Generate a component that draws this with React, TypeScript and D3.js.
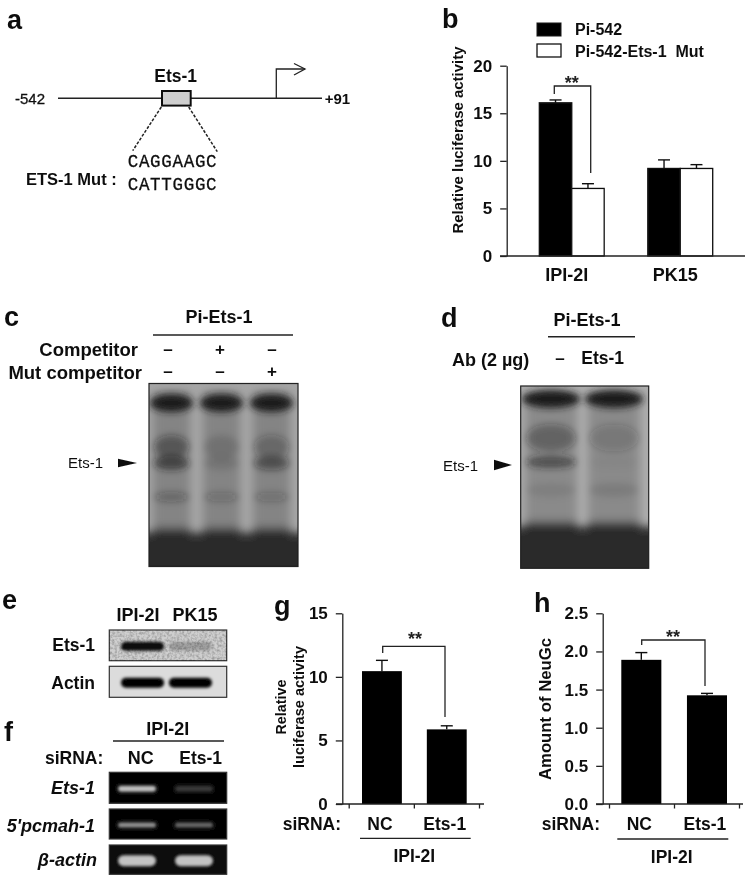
import React, { useEffect, useRef } from 'react'
import * as d3 from 'd3'

const FONT = '"Liberation Sans", Arial, sans-serif'

// panel b
const groupsB = ['IPI-2I', 'PK15']
const seriesB = ['Pi-542', 'Pi-542-Ets-1  Mut']
const valuesB = [[16.1, 7.1], [9.2, 9.2]]
const errorsB = [[16.4, 7.6], [10.1, 9.6]]
const ticksB = [0, 5, 10, 15, 20]

// panel g
const categoriesG = ['NC', 'Ets-1']
const valuesG = [10.45, 5.87]
const errorsG = [11.3, 6.15]
const ticksG = [0, 5, 10, 15]

// panel h
const categoriesH = ['NC', 'Ets-1']
const valuesH = [1.89, 1.425]
const errorsH = [1.985, 1.45]
const ticksH = [0, 0.5, 1, 1.5, 2, 2.5]

// gels: band strength per row, per lane
const gelRows = ['well', 'upper', 'ets1', 'lower']
const gelC = [[1, 1, 1], [0.42, 0.14, 0.28], [0.62, 0.12, 0.48], [0.3, 0.22, 0.22]]
const gelD = [[1, 1], [0.34, 0.18], [0.55, 0.03], [0.08, 0.1]]
const blotRows = ['Ets-1', 'Actin']
const blotE = [[0.95, 0.22], [1, 1]]
const pcrRows = ['Ets-1', "5'pcmah-1", 'β-actin']
const pcrF = [[0.8, 0.22], [0.6, 0.42], [0.8, 0.8]]

type Sel = d3.Selection<any, unknown, null, undefined>

function label(g: Sel, x: number, y: number, s: string, size = 18, anchor = 'middle', weight = 'bold', style = 'normal') {
  return g.append('text')
    .attr('x', x)
    .attr('y', y)
    .attr('dy', '0.36em')
    .attr('text-anchor', anchor)
    .attr('font-family', FONT)
    .attr('font-size', size)
    .attr('font-weight', weight)
    .attr('font-style', style)
    .attr('fill', '#111')
    .text(s)
}

function rule(g: Sel, x1: number, y1: number, x2: number, y2: number, w = 1.3, color = '#222') {
  return g.append('line')
    .attr('x1', x1).attr('y1', y1).attr('x2', x2).attr('y2', y2)
    .attr('stroke', color)
    .attr('stroke-width', w)
}

function stars(g: Sel, x: number, y: number) {
  g.append('text')
    .attr('x', x).attr('y', y + 10)
    .attr('text-anchor', 'middle')
    .attr('font-family', FONT)
    .attr('font-size', 18)
    .attr('font-weight', 'bold')
    .attr('fill', '#222')
    .text('**')
}

function bracket(g: Sel, x1: number, y1: number, yTop: number, x2: number, y2: number) {
  g.append('path')
    .attr('d', d3.line()([[x1, y1], [x1, yTop], [x2, yTop], [x2, y2]]))
    .attr('fill', 'none')
    .attr('stroke', '#222')
    .attr('stroke-width', 1.3)
}

function yAxis(g: Sel, x: number, y: d3.ScaleLinear<number, number>, ticks: number[], fmt: string, size = 17) {
  const ax = g.append('g')
    .attr('transform', `translate(${x},0)`)
    .call(d3.axisLeft(y).tickValues(ticks).tickFormat(d3.format(fmt) as any).tickSize(6.5).tickSizeOuter(0).tickPadding(8))
  ax.selectAll('path,line').attr('stroke', '#222').attr('stroke-width', 1.3)
  ax.selectAll('text')
    .attr('font-family', FONT)
    .attr('font-size', size)
    .attr('font-weight', 'bold')
    .attr('fill', '#111')
}

function errorBar(g: Sel, cx: number, y0: number, y1: number, cap = 12) {
  rule(g, cx, y0, cx, y1, 1.4, '#111')
  rule(g, cx - cap / 2, y1, cx + cap / 2, y1, 1.4, '#111')
}

function arrowHead(g: Sel, x0: number, x1: number, y: number, h: number) {
  g.append('path')
    .attr('d', d3.line()([[x0, y - h / 2], [x1, y], [x0, y + h / 2]]) + 'Z')
    .attr('fill', '#111')
}

function drawGel(
  g: Sel, id: string, box: number[], bg: string, laneColor: string, laneRange: number[], pad: number,
  rowY: number[], matrix: number[][], frontY: number, bandH: number[],
) {
  const [x0, y0, x1, y1] = box
  const defs = g.append('defs')
  defs.append('clipPath').attr('id', id).append('rect')
    .attr('x', x0).attr('y', y0).attr('width', x1 - x0).attr('height', y1 - y0)
  const body = g.append('g').attr('clip-path', `url(#${id})`)
  body.append('rect').attr('x', x0).attr('y', y0).attr('width', x1 - x0).attr('height', y1 - y0).attr('fill', bg)
  const lanes = d3.scaleBand<number>().domain(d3.range(matrix[0].length)).range(laneRange as [number, number]).paddingInner(pad)
  const rows = d3.scaleOrdinal<string, number>().domain(gelRows).range(rowY)
  const rowH = d3.scaleOrdinal<string, number>().domain(gelRows).range(bandH)

  // lane smear and the dark front running off the bottom of the gel
  const smear = body.append('g').attr('filter', 'url(#smearBlur)')
  lanes.domain().forEach(l => {
    smear.append('rect')
      .attr('x', lanes(l)!)
      .attr('y', y0 + 8)
      .attr('width', lanes.bandwidth())
      .attr('height', y1 - y0)
      .attr('fill', laneColor)
  })
  smear.append('rect').attr('x', x0 - 20).attr('y', frontY + 5).attr('width', x1 - x0 + 40).attr('height', y1 - frontY + 20).attr('fill', '#2b2b2b')
  lanes.domain().forEach(l => {
    smear.append('rect')
      .attr('x', lanes(l)!)
      .attr('y', frontY)
      .attr('width', lanes.bandwidth())
      .attr('height', y1 - frontY + 10)
      .attr('fill', '#2b2b2b')
  })

  const inner = body.append('g').attr('filter', 'url(#gelBlur)')
  gelRows.forEach((r, i) => {
    matrix[i].forEach((v, l) => {
      const well = r === 'well'
      inner.append('ellipse')
        .attr('cx', lanes(l)! + lanes.bandwidth() / 2)
        .attr('cy', rows(r))
        .attr('rx', lanes.bandwidth() / 2 + (well ? 3 : -1))
        .attr('ry', rowH(r))
        .attr('fill', '#1c1c1c')
        .attr('opacity', v)
    })
  })
  g.append('rect').attr('x', x0).attr('y', y0).attr('width', x1 - x0).attr('height', y1 - y0)
    .attr('fill', 'none').attr('stroke', '#222').attr('stroke-width', 1.2)
}

function drawStrips(
  g: Sel, boxes: number[][], bgs: string[], band: string, laneRange: number[], pad: number,
  matrix: number[][], thick: number[], grainOn = -1,
) {
  const lanes = d3.scaleBand<number>().domain(d3.range(2)).range(laneRange as [number, number]).paddingInner(pad)
  boxes.forEach((b, i) => {
    const [x0, y0, x1, y1] = b
    g.append('rect').attr('x', x0).attr('y', y0).attr('width', x1 - x0).attr('height', y1 - y0)
      .attr('fill', bgs[i]).attr('stroke', '#333').attr('stroke-width', 1.2)
    if (i === grainOn) {
      g.append('rect').attr('x', x0 + 0.6).attr('y', y0 + 0.6).attr('width', x1 - x0 - 1.2).attr('height', y1 - y0 - 1.2)
        .attr('filter', 'url(#grain)').attr('opacity', 0.22)
    }
    matrix[i].forEach((v, l) => {
      g.append('rect')
        .attr('x', lanes(l)!)
        .attr('y', (y0 + y1) / 2 + 1 - thick[i])
        .attr('width', lanes.bandwidth())
        .attr('height', 2 * thick[i])
        .attr('rx', thick[i])
        .attr('fill', band)
        .attr('opacity', v)
        .attr('filter', 'url(#bandBlur)')
    })
  })
}

function panelA(g: Sel) {
  label(g, 7, 19, 'a', 27, 'start')
  rule(g, 58, 98.3, 322, 98.3, 1.4)
  g.append('rect').attr('x', 162).attr('y', 91).attr('width', 28.7).attr('height', 14.6)
    .attr('fill', '#cfcfcf').attr('stroke', '#111').attr('stroke-width', 2)
  g.append('path').attr('d', d3.line()([[276.3, 98], [276.3, 69], [305, 69]])).attr('fill', 'none').attr('stroke', '#222').attr('stroke-width', 1.3)
  g.append('path').attr('d', d3.line()([[294, 63.5], [305, 69], [294, 75]])).attr('fill', 'none').attr('stroke', '#222').attr('stroke-width', 1.3)
  label(g, 175.7, 76, 'Ets-1', 17.5)
  label(g, 30, 98.5, '-542', 15, 'middle', 'normal').attr('stroke', '#111').attr('stroke-width', 0.3)
  label(g, 337.5, 98.5, '+91', 15)
  rule(g, 161.3, 107, 132.7, 150.7, 1.5).attr('stroke-dasharray', '3 1.6')
  rule(g, 188.7, 107, 217.3, 151.7, 1.5).attr('stroke-dasharray', '3 1.6')
  ;[['CAGGAAGC', 160.7], ['CATTGGGC', 183.3]].forEach(([s, y]) => {
    label(g, 127.7, y as number, s as string, 17.5, 'start', 'normal')
      .attr('font-family', '"Liberation Mono", monospace')
      .attr('letter-spacing', 0.7)
      .attr('stroke', '#111')
      .attr('stroke-width', 0.3)
  })
  label(g, 26, 179, 'ETS-1 Mut :', 16.5, 'start')
}

function panelB(g: Sel) {
  label(g, 442, 18, 'b', 27, 'start')
  g.append('rect').attr('x', 537).attr('y', 23).attr('width', 24).attr('height', 13).attr('fill', '#000').attr('stroke', '#111')
  g.append('rect').attr('x', 537).attr('y', 44).attr('width', 24).attr('height', 13).attr('fill', '#fff').attr('stroke', '#111').attr('stroke-width', 1.3)
  label(g, 575, 29, seriesB[0], 16, 'start')
  label(g, 575, 51, seriesB[1], 16, 'start').style('white-space', 'pre')

  const y = d3.scaleLinear().domain([0, 20]).range([256, 65.7])
  const x0 = d3.scaleBand().domain(groupsB).range([539.3, 712.7]).paddingInner(0.402)
  const x1 = d3.scaleBand<number>().domain([0, 1]).range([0, x0.bandwidth()])
  groupsB.forEach((name, i) => {
    valuesB[i].forEach((v, s) => {
      const cx = x0(name)! + x1(s)! + x1.bandwidth() / 2
      errorBar(g, cx, y(v), y(errorsB[i][s]))
      g.append('rect')
        .attr('x', x0(name)! + x1(s)!)
        .attr('y', y(v))
        .attr('width', x1.bandwidth())
        .attr('height', y(0) - y(v))
        .attr('fill', s === 0 ? '#000' : '#fff')
        .attr('stroke', '#111')
        .attr('stroke-width', 1.3)
    })
    label(g, x0(name)! + x0.bandwidth() / 2 - 5, 275, name, 18)
  })
  yAxis(g, 506.7, y, ticksB, 'd')
  rule(g, 500, 256, 745, 256)
  bracket(g, 554.3, 94, 86, 590.7, 173)
  stars(g, 571.7, 79)
  label(g, 0, 0, 'Relative luciferase activity', 15)
    .attr('transform', 'translate(457.5,140) rotate(-90)')
    .attr('textLength', 187)
    .attr('lengthAdjust', 'spacingAndGlyphs')
}

function panelC(g: Sel) {
  label(g, 4, 316, 'c', 27, 'start')
  label(g, 219, 317, 'Pi-Ets-1', 18)
  rule(g, 153, 335, 293, 335, 1.4)
  label(g, 138, 349.5, 'Competitor', 18.5, 'end')
  label(g, 142, 372, 'Mut competitor', 18.5, 'end')
  const signs = [['–', '+', '–'], ['–', '–', '+']]
  const sx = d3.scalePoint<number>().domain([0, 1, 2]).range([168, 272])
  signs.forEach((row, r) => row.forEach((s, i) => label(g, sx(i)!, 349 + r * 22, s, 17)))
  drawGel(g, 'clipC', [149, 383.5, 298, 566.5], '#a6a6a6', '#848484', [153, 290], 0.26, [403, 447, 463, 497], gelC, 528, [9, 12, 7, 5])
  label(g, 85.5, 463, 'Ets-1', 15, 'middle', 'normal')
  arrowHead(g, 118, 137, 463, 8.5)
}

function panelD(g: Sel) {
  label(g, 441, 317, 'd', 27, 'start')
  label(g, 587, 320, 'Pi-Ets-1', 18)
  rule(g, 548, 336.7, 635, 336.7, 1.4)
  label(g, 452, 360, 'Ab (2 µg)', 18, 'start')
  label(g, 560, 358, '–', 17)
  label(g, 602.7, 358, 'Ets-1', 17.5)
  drawGel(g, 'clipD', [520.7, 386, 648.7, 568.3], '#adadad', '#8a8a8a', [525, 640], 0.175, [399, 438, 462, 490], gelD, 522, [9, 14, 6, 7])
  label(g, 460.5, 465.7, 'Ets-1', 15, 'middle', 'normal')
  arrowHead(g, 494, 512, 465, 10.5)
}

function panelE(g: Sel) {
  label(g, 2, 599, 'e', 27, 'start')
  label(g, 138, 615, 'IPI-2I', 18)
  label(g, 195, 615, 'PK15', 18)
  blotRows.forEach((r, i) => label(g, 95, i === 0 ? 645 : 683, r, 17.5, 'end'))
  drawStrips(g, [[109.3, 630, 226.7, 660.7], [109.3, 666.3, 226.7, 697.3]], ['#cfcfcf', '#dcdcdc'], '#050505', [121, 212], 0.1, blotE, [4.5, 5], 0)
}

function panelF(g: Sel) {
  label(g, 4, 731, 'f', 27, 'start')
  label(g, 167.7, 729, 'IPI-2I', 18)
  rule(g, 113, 741, 224, 741, 1.3)
  label(g, 45, 758, 'siRNA:', 17.5, 'start')
  label(g, 140.7, 758, 'NC', 18)
  label(g, 200.7, 758, 'Ets-1', 17.5)
  const ys = [788, 826, 860]
  const rights = [95, 95, 97]
  pcrRows.forEach((r, i) => label(g, rights[i], ys[i], r, 18, 'end', 'bold', 'italic'))
  drawStrips(g, [[109.3, 772.3, 226.7, 803.3], [109.3, 809, 226.7, 839], [109.3, 845, 226.7, 874.3]], ['#050505', '#050505', '#0a0a0a'], '#f2f2f2', [118, 213], 0.333, pcrF, [3, 2.6, 5.5])
}

function simpleBars(
  g: Sel, names: string[], vals: number[], errs: number[], y: d3.ScaleLinear<number, number>, range: number[], pad: number,
) {
  const x = d3.scaleBand().domain(names).range(range as [number, number]).paddingInner(pad)
  g.selectAll(null).data(names).enter().append('rect')
    .attr('x', (d: any) => x(d)!)
    .attr('y', (_: any, i: number) => y(vals[i]))
    .attr('width', x.bandwidth())
    .attr('height', (_: any, i: number) => y(0) - y(vals[i]))
    .attr('fill', '#000')
  names.forEach((n, i) => {
    errorBar(g, x(n)! + x.bandwidth() / 2, y(vals[i]), y(errs[i]))
    label(g, x(n)! + x.bandwidth() / 2 - 2, 824, n, 17.5)
  })
}

function xTicks(g: Sel, range: number[]) {
  const t = d3.scaleLinear().domain([0, 2]).range(range)
  const ax = g.append('g')
    .attr('transform', 'translate(0,804)')
    .call(d3.axisBottom(t).tickValues([0, 1, 2]).tickFormat(() => '').tickSize(4.5).tickSizeOuter(0))
  ax.select('.domain').remove()
  ax.selectAll('line').attr('stroke', '#222').attr('stroke-width', 1.3)
}

function panelG(g: Sel) {
  label(g, 274, 605, 'g', 27, 'start')
  const y = d3.scaleLinear().domain([0, 15]).range([804, 613.3])
  simpleBars(g, categoriesG, valuesG, errorsG, y, [362, 466.7], 0.385)
  yAxis(g, 342.3, y, ticksG, 'd')
  rule(g, 336, 804, 484, 804)
  xTicks(g, [348.7, 479])
  bracket(g, 382.7, 653, 646.3, 445, 717)
  stars(g, 415, 635)
  label(g, 0, 0, 'Relative', 15).attr('transform', 'translate(281,707) rotate(-90)').attr('textLength', 55).attr('lengthAdjust', 'spacingAndGlyphs')
  label(g, 0, 0, 'luciferase activity', 15).attr('transform', 'translate(299,707) rotate(-90)').attr('textLength', 122).attr('lengthAdjust', 'spacingAndGlyphs')
  label(g, 282.7, 824, 'siRNA:', 17.5, 'start')
  rule(g, 360, 838.3, 470.7, 838.3, 1.3)
  label(g, 414.3, 856, 'IPI-2I', 17.5)
}

function panelH(g: Sel) {
  label(g, 534, 602, 'h', 27, 'start')
  const y = d3.scaleLinear().domain([0, 2.5]).range([804, 613.3])
  simpleBars(g, categoriesH, valuesH, errorsH, y, [621.3, 727], 0.39)
  yAxis(g, 602.7, y, ticksH, '.1f')
  rule(g, 596, 804, 743, 804)
  xTicks(g, [609, 739])
  bracket(g, 641.7, 645, 640, 705, 686)
  stars(g, 673, 633)
  label(g, 0, 0, 'Amount of NeuGc', 16).attr('transform', 'translate(545,709) rotate(-90)').attr('textLength', 142).attr('lengthAdjust', 'spacingAndGlyphs')
  label(g, 541.7, 824, 'siRNA:', 17.5, 'start')
  rule(g, 617.3, 839, 728.3, 839, 1.3)
  label(g, 671.7, 856.5, 'IPI-2I', 17.5)
}

export default function App() {
  const ref = useRef<SVGSVGElement>(null)

  useEffect(() => {
    const svg = d3.select(ref.current) as unknown as Sel
    svg.selectAll('*').remove()
    const defs = svg.append('defs')
    const blur = (id: string, dev: number) => defs.append('filter')
      .attr('id', id)
      .attr('filterUnits', 'userSpaceOnUse')
      .attr('x', 0).attr('y', 0).attr('width', 748).attr('height', 879)
      .append('feGaussianBlur').attr('stdDeviation', dev)
    blur('soft', 0.5)
    blur('gelBlur', 3.6)
    blur('smearBlur', 5)
    blur('bandBlur', 1.5)
    // speckle on the noisy blot, kept inside the rect it is applied to
    const grain = defs.append('filter').attr('id', 'grain')
      .attr('x', 0).attr('y', 0).attr('width', 1).attr('height', 1)
    grain.append('feTurbulence').attr('type', 'fractalNoise').attr('baseFrequency', 0.4).attr('numOctaves', 2).attr('seed', 3)
    grain.append('feColorMatrix').attr('values', '0 0 0 0 0  0 0 0 0 0  0 0 0 0 0  2.4 0 0 0 -0.9')

    const root = svg.append('g').attr('filter', 'url(#soft)')
    panelA(root)
    panelB(root)
    panelC(root)
    panelD(root)
    panelE(root)
    panelF(root)
    panelG(root)
    panelH(root)
  }, [])

  return (
    <svg
      ref={ref}
      width={748}
      height={879}
      style={{ position: 'absolute', left: 0, top: 0, background: '#fff' }}
    />
  )
}
